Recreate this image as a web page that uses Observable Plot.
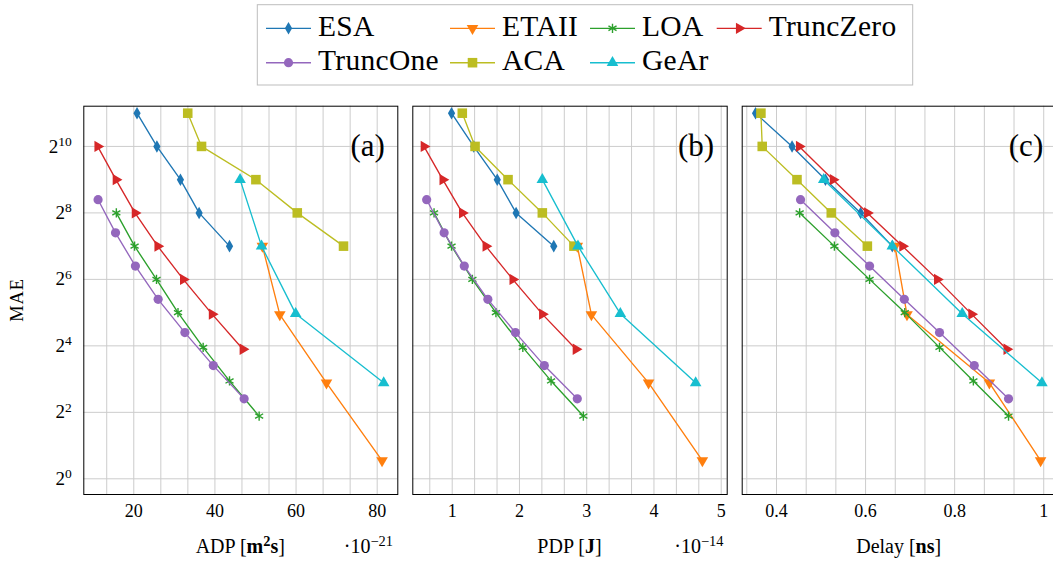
<!DOCTYPE html>
<html><head><meta charset="utf-8">
<script src="https://cdn.jsdelivr.net/npm/d3@7"></script>
<script src="https://cdn.jsdelivr.net/npm/@observablehq/plot@0.6"></script>
<style>
body{margin:0;background:#fff;}
#wrap{position:relative;width:1053px;height:561px;overflow:hidden;background:#fff;font-family:"Liberation Serif","DejaVu Serif",serif;}
.panel{position:absolute;top:95px;}
#overlay{position:absolute;left:0;top:0;pointer-events:none;}
</style></head>
<body><div id="wrap"></div>
<script>
// ---------------- data ----------------
const seriesNames = ["ESA","ETAII","LOA","TruncZero","TruncOne","ACA","GeAr"];
// MAE (shared y values)
const maeESA       = [2048,1024,512,256,128];
const maeETAII     = [128,30.7,7.4,1.46];
const maeLOA       = [256,128,64,32,15.5,7.7,3.7];
const maeTruncZero = [1024,512,256,128,64,31,14.9];
const maeTruncOne  = [337,169,84.4,42.2,21.1,10.6,5.3];
const maeACA       = [2048,1024,512,256,128];
const maeGeAr      = [512,128,31.3,7.4];
// ADP (x 1e-21 m^2 s)
const adpESA       = [20.8,25.7,31.5,36.1,43.6];
const adpETAII     = [51.7,56.0,67.5,81.2];
const adpLOA       = [15.7,20.2,25.6,30.9,37.1,43.6,50.9];
const adpTruncZero = [11.1,15.6,20.3,25.9,32.2,39.3,46.9];
const adpTruncOne  = [11.2,15.5,20.4,26.0,32.6,39.6,47.2];
const adpACA       = [33.3,36.7,50.1,60.3,71.7];
const adpGeAr      = [46.2,51.5,59.9,81.6];
// PDP (x 1e-14 J)
const pdpESA       = [0.99,1.32,1.67,1.95,2.51];
const pdpETAII     = [2.86,3.07,3.92,4.72];
const pdpLOA       = [0.73,0.99,1.30,1.65,2.05,2.47,2.95];
const pdpTruncZero = [0.58,0.86,1.15,1.50,1.90,2.34,2.84];
const pdpTruncOne  = [0.62,0.88,1.18,1.53,1.94,2.37,2.86];
const pdpACA       = [1.15,1.34,1.83,2.34,2.81];
const pdpGeAr      = [2.34,2.87,3.50,4.62];
// Delay (ns)
const delayESA       = [0.353,0.435,0.510,0.589,0.660];
const delayETAII     = [0.666,0.693,0.878,0.993];
const delayLOA       = [0.452,0.530,0.609,0.688,0.766,0.842,0.921];
const delayTruncZero = [0.451,0.527,0.604,0.683,0.761,0.838,0.917];
const delayTruncOne  = [0.454,0.531,0.609,0.687,0.766,0.844,0.921];
const delayACA       = [0.365,0.368,0.446,0.523,0.604];
const delayGeAr      = [0.506,0.660,0.817,0.996];
// ticks
const yTicks     = [1,4,16,64,256,1024];
const adpTicks   = [20,40,60,80];
const adpGrid    = [13.333,20,26.667,33.333,40,46.667,53.333,60,66.667,73.333,80];
const pdpTicks   = [1,2,3,4,5];
const pdpGrid    = [0.6667,1,1.3333,1.6667,2,2.3333,2.6667,3,3.3333,3.6667,4,4.3333,4.6667,5];
const delayTicks = [0.4,0.6,0.8,1];
const delayGrid  = [0.3333,0.4,0.4667,0.5333,0.6,0.6667,0.7333,0.8,0.8667,0.9333,1];

// ---------------- build rows ----------------
const MAE = {ESA:maeESA,ETAII:maeETAII,LOA:maeLOA,TruncZero:maeTruncZero,TruncOne:maeTruncOne,ACA:maeACA,GeAr:maeGeAr};
const ADP = {ESA:adpESA,ETAII:adpETAII,LOA:adpLOA,TruncZero:adpTruncZero,TruncOne:adpTruncOne,ACA:adpACA,GeAr:adpGeAr};
const PDP = {ESA:pdpESA,ETAII:pdpETAII,LOA:pdpLOA,TruncZero:pdpTruncZero,TruncOne:pdpTruncOne,ACA:pdpACA,GeAr:pdpGeAr};
const DEL = {ESA:delayESA,ETAII:delayETAII,LOA:delayLOA,TruncZero:delayTruncZero,TruncOne:delayTruncOne,ACA:delayACA,GeAr:delayGeAr};
const rows = [];
for (const s of seriesNames) MAE[s].forEach((m,i)=>rows.push({series:s,mae:m,adp:ADP[s][i],pdp:PDP[s][i],delay:DEL[s][i]}));

// ---------------- styles ----------------
const FONT = "'Liberation Serif', 'DejaVu Serif', 'Noto Serif', serif";
const S3 = Math.sqrt(3);
const triDown = {draw(c,size){const y=-Math.sqrt(size/(3*S3));c.moveTo(0,-2*y);c.lineTo(-S3*y,y);c.lineTo(S3*y,y);c.closePath();}};
const triRight = {draw(c,size){const y=-Math.sqrt(size/(3*S3));c.moveTo(-2*y,0);c.lineTo(y,S3*y);c.lineTo(y,-S3*y);c.closePath();}};
const colors = {ESA:"#1f77b4",ETAII:"#ff7f0e",LOA:"#2ca02c",TruncZero:"#d62728",TruncOne:"#9467bd",ACA:"#bcbd22",GeAr:"#17becf"};
const symbols = {ESA:d3.symbolDiamond,ETAII:triDown,LOA:d3.symbolAsterisk,TruncZero:triRight,TruncOne:d3.symbolCircle,ACA:d3.symbolSquare,GeAr:d3.symbolTriangle};
const radii = {ESA:3.8,ETAII:4.3,LOA:4.4,TruncZero:4.2,TruncOne:4.6,ACA:5.4,GeAr:4.3};
const GRID = "#cccccc";
const yDomain = [Math.pow(2,-0.472), Math.pow(2,11.21)];

const wrap = document.getElementById("wrap");

function panel({key, domain, ticks, grid, letter, left, width, ml, mr, showY}) {
  const marks = [
    Plot.ruleX(grid, {stroke: GRID, strokeWidth: 1}),
    Plot.ruleY(yTicks, {stroke: GRID, strokeWidth: 1})
  ];
  for (const s of seriesNames) {
    const d = rows.filter(r => r.series === s);
    const hollow = s === "LOA";
    marks.push(Plot.line(d, {x: key, y: "mae", stroke: colors[s], strokeWidth: 1.35}));
    marks.push(Plot.dot(d, {x: key, y: "mae", r: radii[s], symbol: symbols[s],
      fill: hollow ? "none" : colors[s], stroke: hollow ? colors[s] : "none", strokeWidth: 1.4}));
  }
  marks.push(Plot.frame({stroke: "#000", strokeWidth: 1}));
  marks.push(Plot.axisX({ticks, tickSize: 0, tickPadding: 10, tickFormat: d => String(d), label: null, fontSize: 18}));
  if (showY) marks.push(Plot.axisY({ticks: yTicks, tickSize: 0, tickPadding: 12, label: null, fontSize: 19,
      tickFormat: d => String(Math.round(Math.log2(d)))}));
  marks.push(Plot.text([letter], {text: d => d, frameAnchor: "top-right", dx: -13, dy: 28, fontSize: 31, textAnchor: "end"}));
  const chart = Plot.plot({
    width, height: 466, marginLeft: ml, marginRight: mr, marginTop: 10.7, marginBottom: 67,
    x: {domain},
    y: showY ? {type: "log", base: 2, domain: yDomain} : {type: "log", base: 2, domain: yDomain, axis: null},
    style: {fontFamily: FONT, fontSize: "18px", background: "transparent", color: "#000", overflow: "visible"},
    marks
  });
  chart.classList.add("panel");
  chart.style.left = left + "px";
  if (showY) {
    chart.querySelectorAll('g[aria-label="y-axis tick label"] text').forEach(t => {
      const e = t.textContent;
      t.textContent = "";
      const b = document.createElementNS("http://www.w3.org/2000/svg","tspan");
      b.textContent = "2";
      const sp = document.createElementNS("http://www.w3.org/2000/svg","tspan");
      sp.textContent = e; sp.setAttribute("dy","-0.5em"); sp.setAttribute("font-size","13.5px");
      t.appendChild(b); t.appendChild(sp);
    });
  }
  wrap.appendChild(chart);
}

panel({key:"adp", domain:[7.68,85.08], ticks:adpTicks, grid:adpGrid, letter:"(a)", left:0, width:400, ml:83.3, mr:2.7, showY:true});
panel({key:"pdp", domain:[0.414,5.089], ticks:pdpTicks, grid:pdpGrid, letter:"(b)", left:405, width:325, ml:7.3, mr:3.3, showY:false});
panel({key:"delay", domain:[0.323,1.028], ticks:delayTicks, grid:delayGrid, letter:"(c)", left:735, width:330, ml:6.7, mr:9.3, showY:false});

// ---------------- overlay: legend + axis titles ----------------
const ov = d3.select(wrap).append("svg").attr("id","overlay").attr("width",1053).attr("height",561)
  .attr("font-family", FONT);
// legend
ov.append("rect").attr("x",257.3).attr("y",4.7).attr("width",655.4).attr("height",80.3)
  .attr("fill","#fff").attr("stroke","#bdbdbd").attr("stroke-width",1);
const colStart = [266,450,590,716.7];
const rowY = [28.3, 62.7];
const legendPos = {ESA:[0,0],ETAII:[1,0],LOA:[2,0],TruncZero:[3,0],TruncOne:[0,1],ACA:[1,1],GeAr:[2,1]};
for (const s of seriesNames) {
  const [c, r] = legendPos[s];
  const x0 = colStart[c], y0 = rowY[r];
  ov.append("line").attr("x1",x0).attr("x2",x0+45).attr("y1",y0).attr("y2",y0)
    .attr("stroke",colors[s]).attr("stroke-width",1.35);
  const hollow = s === "LOA";
  ov.append("path").attr("d", d3.symbol(symbols[s], Math.PI*radii[s]*radii[s])())
    .attr("transform",`translate(${x0+22.5},${y0})`)
    .attr("fill", hollow ? "none" : colors[s]).attr("stroke", hollow ? colors[s] : "none").attr("stroke-width",1.4);
  ov.append("text").attr("x",x0+52).attr("y",y0+7.5).attr("font-size",29.5).attr("letter-spacing",0.3)
    .attr("fill","#000").text(s);
}
// axis titles
function title(x, parts, anchor, size) {
  const t = ov.append("text").attr("x",x).attr("y",553).attr("font-size",size).attr("text-anchor",anchor).attr("fill","#000");
  for (const p of parts) {
    const sp = t.append("tspan").text(p.t);
    if (p.b) sp.attr("font-weight","bold");
    if (p.sup) sp.attr("dy","-0.5em").attr("font-size",size*0.72);
    if (p.down) sp.attr("dy","0.36em");
  }
  return t;
}
title(240.3, [{t:"ADP ["},{t:"m",b:1},{t:"2",b:1,sup:1},{t:"s",b:1,down:1},{t:"]"}], "middle", 20);
title(393, [{t:"·10"},{t:"−21",sup:1}], "end", 20);
title(569.5, [{t:"PDP ["},{t:"J",b:1},{t:"]"}], "middle", 20);
title(723.5, [{t:"·10"},{t:"−14",sup:1}], "end", 20);
title(898.7, [{t:"Delay ["},{t:"ns",b:1},{t:"]"}], "middle", 20);
ov.append("text").attr("transform","translate(23,300) rotate(-90)").attr("text-anchor","middle")
  .attr("font-size",18.5).attr("letter-spacing",0.8).attr("fill","#000").text("MAE");
</script>
</body></html>
